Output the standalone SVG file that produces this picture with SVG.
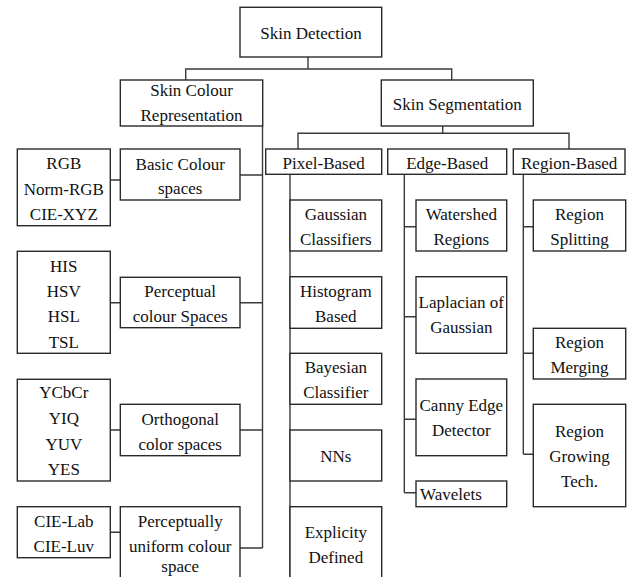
<svg xmlns="http://www.w3.org/2000/svg" width="630" height="577" viewBox="0 0 630 577">
<style>
.b{fill:#fff;stroke:#2a2a2a;stroke-width:1.4}
.c{fill:none;stroke:#3a3a3a;stroke-width:1.4}
.t text{font-size:17px;fill:#111;text-anchor:middle}
</style>
<rect x="0" y="0" width="630" height="577" fill="#fff"/>
<g id="connectors">
<path class="c" d="M308 57V69M185.7 80V69H451.7V80"/>
<path class="c" d="M442.7 126V133.3M298 149V133.3H569V149"/>
<path class="c" d="M262.5 126V548M240 175H262.5M240 302.7H262.5M240 430H262.5M240 548H262.5"/>
<path class="c" d="M110.3 180H120.3M110.3 302.7H120.3M110.3 430H120.3M110.3 532.3H120.3"/>
<path class="c" d="M290 174.3V580"/>
<path class="c" d="M404.3 174.3V492.7M404.3 226.7H416M404.3 316.7H416M404.3 419.3H416M404.3 492.7H416"/>
<path class="c" d="M523.3 174.3V454.3M523.3 226.7H533.3M523.3 353.3H533.3M523.3 454.3H533.3"/>
</g>
<g class="t" font-family="'Liberation Serif', serif">
<g id="skin-detection"><rect class="b" x="240" y="7.3" width="141.7" height="49.7"/><text x="311" y="39">Skin Detection</text></g>
<g id="skin-colour-representation"><rect class="b" x="120.3" y="80" width="142.4" height="46"/><text x="191.5" y="96">Skin Colour</text><text x="191.5" y="121">Representation</text></g>
<g id="skin-segmentation"><rect class="b" x="381.3" y="80" width="152" height="46"/><text x="457.3" y="110">Skin Segmentation</text></g>
<g id="pixel-based"><rect class="b" x="265.7" y="149" width="116" height="25.3"/><text x="323.7" y="169">Pixel-Based</text></g>
<g id="edge-based"><rect class="b" x="387.7" y="149" width="119" height="25.3"/><text x="447.2" y="169">Edge-Based</text></g>
<g id="region-based"><rect class="b" x="513.3" y="149" width="111.7" height="25.3"/><text x="569.2" y="169">Region-Based</text></g>
<g id="basic-colour-spaces"><rect class="b" x="120.3" y="149" width="119.7" height="51"/><text x="180.2" y="169.5">Basic Colour</text><text x="180.2" y="194">spaces</text></g>
<g id="rgb-group"><rect class="b" x="17.3" y="149" width="93" height="76.7"/><text x="63.8" y="169">RGB</text><text x="63.8" y="194.5">Norm-RGB</text><text x="63.8" y="220">CIE-XYZ</text></g>
<g id="perceptual-colour-spaces"><rect class="b" x="120.3" y="277.3" width="119.7" height="50.4"/><text x="180.2" y="297.3">Perceptual</text><text x="180.2" y="322.3">colour Spaces</text></g>
<g id="his-group"><rect class="b" x="17.3" y="251.3" width="93" height="102"/><text x="63.8" y="271.7">HIS</text><text x="63.8" y="296.7">HSV</text><text x="63.8" y="322.3">HSL</text><text x="63.8" y="347.7">TSL</text></g>
<g id="orthogonal-color-spaces"><rect class="b" x="120.3" y="404.3" width="119.7" height="51.4"/><text x="180.2" y="425">Orthogonal</text><text x="180.2" y="450">color spaces</text></g>
<g id="ycbcr-group"><rect class="b" x="17.3" y="379.3" width="93" height="101.7"/><text x="63.8" y="398.3">YCbCr</text><text x="63.8" y="424">YIQ</text><text x="63.8" y="449.5">YUV</text><text x="63.8" y="475">YES</text></g>
<g id="perceptually-uniform"><rect class="b" x="120.3" y="506.7" width="119.7" height="80"/><text x="180.2" y="526.7">Perceptually</text><text x="180.2" y="551.5">uniform colour</text><text x="180.2" y="572">space</text></g>
<g id="cie-group"><rect class="b" x="17.3" y="506.7" width="93" height="51"/><text x="63.8" y="526.7">CIE-Lab</text><text x="63.8" y="552.3">CIE-Luv</text></g>
<g id="gaussian-classifiers"><rect class="b" x="290" y="200" width="91.7" height="51"/><text x="335.8" y="220">Gaussian</text><text x="335.8" y="245">Classifiers</text></g>
<g id="histogram-based"><rect class="b" x="290" y="276.7" width="91.7" height="51.6"/><text x="335.8" y="296.7">Histogram</text><text x="335.8" y="321.7">Based</text></g>
<g id="bayesian-classifier"><rect class="b" x="290" y="353.3" width="91.7" height="51"/><text x="335.8" y="373.3">Bayesian</text><text x="335.8" y="398.3">Classifier</text></g>
<g id="nns"><rect class="b" x="290" y="430" width="91.7" height="51"/><text x="335.8" y="461.7">NNs</text></g>
<g id="explicity-defined"><rect class="b" x="290" y="506.7" width="91.7" height="80"/><text x="335.8" y="538.3">Explicity</text><text x="335.8" y="563.3">Defined</text></g>
<g id="watershed-regions"><rect class="b" x="416" y="200" width="90.7" height="51"/><text x="461.3" y="220">Watershed</text><text x="461.3" y="245">Regions</text></g>
<g id="laplacian-of-gaussian"><rect class="b" x="416" y="276.7" width="90.7" height="76.6"/><text x="461.3" y="308.3">Laplacian of</text><text x="461.3" y="333.3">Gaussian</text></g>
<g id="canny-edge-detector"><rect class="b" x="416" y="379" width="90.7" height="76.7"/><text x="461.3" y="410.7">Canny Edge</text><text x="461.3" y="436">Detector</text></g>
<g id="wavelets"><rect class="b" x="416" y="481" width="90.7" height="25.7"/><text x="420" y="500" style="text-anchor:start">Wavelets</text></g>
<g id="region-splitting"><rect class="b" x="533.3" y="200" width="92.4" height="51"/><text x="579.5" y="220">Region</text><text x="579.5" y="245">Splitting</text></g>
<g id="region-merging"><rect class="b" x="533.3" y="328.3" width="92.4" height="50.7"/><text x="579.5" y="348.3">Region</text><text x="579.5" y="373">Merging</text></g>
<g id="region-growing"><rect class="b" x="533.3" y="404.3" width="92.4" height="102.4"/><text x="579.5" y="436.7">Region</text><text x="579.5" y="462">Growing</text><text x="579.5" y="486.7">Tech.</text></g>
</g>
</svg>
